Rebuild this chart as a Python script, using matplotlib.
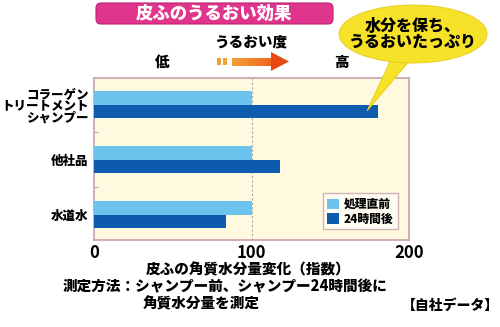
import matplotlib
matplotlib.use("Agg")
import matplotlib.pyplot as plt
from matplotlib.patches import Ellipse, Polygon, FancyBboxPatch, Rectangle
from matplotlib.transforms import Affine2D
import numpy as np

plt.rcParams['font.family'] = ['Noto Sans CJK JP', 'DejaVu Sans']

categories = ["コラーゲン\nトリートメント\nシャンプー", "他社品", "水道水"]
before = [100, 100, 100]
after24 = [180, 118, 84]
series_names = ["処理直前", "24時間後"]
xticks = [0, 100, 200]

c_light = "#6CC4EE"
c_dark = "#0C5BAE"
c_bg = "#FFFADF"
c_border = "#C9A0AA"
FW = 'heavy'

W, H = 500, 327
fig = plt.figure(figsize=(W / 100, H / 100), dpi=100)
T = Affine2D().scale(1, -1).translate(0, H)  # pixel-from-top coords -> display

ax = fig.add_axes([94 / W, 1 - 240 / H, (409 - 94) / W, (240 - 78) / H])
ax.set_facecolor(c_bg)
y = np.arange(len(categories))
h = 0.245
ax.barh(y - h / 2, before, height=h, color=c_light, label=series_names[0], zorder=3)
ax.barh(y + h / 2, after24, height=h, color=c_dark, label=series_names[1], zorder=3)
ax.axvline(100, color="#A8A8A8", ls=(0, (2, 2)), lw=0.8, zorder=2)
ax.set_xlim(0, 200)
ax.set_ylim(2.46, -0.49)
ax.set_yticks(y)
ax.set_yticklabels(categories, fontsize=9, fontweight=FW, linespacing=1.0)
ax.set_yticks([0.5, 1.5], minor=True)
ax.tick_params(axis='y', which='major', length=0, pad=4)
ax.tick_params(axis='y', which='minor', length=3, direction='in', color="#999999")
ax.set_xticks(xticks)
ax.set_xticklabels([str(v) for v in xticks], fontsize=12, fontweight='bold')
ax.tick_params(axis='x', length=0, pad=3)
for s in ax.spines.values():
    s.set_color(c_border)
    s.set_linewidth(1.2)

leg = ax.legend(loc='lower right', bbox_to_anchor=(0.985, 0.03),
                prop={'weight': FW, 'size': 8.5}, frameon=True, fancybox=False,
                edgecolor=c_border, facecolor="#FFFDF8", handlelength=1.0, handleheight=1.0,
                handletextpad=0.4, borderpad=0.4, labelspacing=0.2)
leg.get_frame().set_linewidth(1.0)

# x label and notes
fig.text(248 / W, 1 - 270 / H, "皮ふの角質水分量変化（指数）", ha='center', va='center',
         fontsize=10.5, fontweight=FW)
fig.text(63 / W, 1 - 287 / H, "測定方法：シャンプー前、シャンプー24時間後に", ha='left', va='center',
         fontsize=10.5, fontweight=FW)
fig.text(143 / W, 1 - 304 / H, "角質水分量を測定", ha='left', va='center',
         fontsize=10.5, fontweight=FW)
fig.text(499 / W, 1 - 306 / H, "【自社データ】", ha='right', va='center',
         fontsize=10, fontweight=FW)

# title box
tb = FancyBboxPatch((96, 3), 237, 21, boxstyle="round,pad=0,rounding_size=5",
                    transform=T, facecolor="#E0358C", edgecolor="#C02070", lw=0.8)
fig.patches.append(tb)
fig.text(214 / W, 1 - 14 / H, "皮ふのうるおい効果", ha='center', va='center',
         fontsize=12.5, fontweight=FW, color='white')

# うるおい度 arrow
fig.text(251 / W, 1 - 42 / H, "うるおい度", ha='center', va='center', fontsize=10.5, fontweight=FW)
fig.text(162 / W, 1 - 62 / H, "低", ha='center', va='center', fontsize=10.5, fontweight=FW)
fig.text(341 / W, 1 - 62 / H, "高", ha='center', va='center', fontsize=10.5, fontweight=FW)
for x0, x1 in [(217, 220.5), (222.5, 226.5)]:
    fig.patches.append(Rectangle((x0, 58), x1 - x0, 7, transform=T, facecolor="#F0A030", lw=0))
c0 = np.array([0.95, 0.62, 0.2])
c1 = np.array([0.92, 0.28, 0.08])
nseg = 20
for i in range(nseg):
    xa = 232 + i * (272 - 232) / nseg
    col = c0 + (c1 - c0) * (i / nseg) * 0.7
    fig.patches.append(Rectangle((xa, 57.5), (272 - 232) / nseg + 0.5, 8, transform=T,
                                 facecolor=col, lw=0))
fig.patches.append(Polygon([(271, 52), (271, 71), (289, 61.5)], closed=True, transform=T,
                           facecolor="#E84A12", lw=0))

# speech bubble
yel = "#F6E228"
fig.patches.append(Polygon([(393, 55), (412, 58), (367, 111)], closed=True, transform=T,
                           facecolor=yel, edgecolor="#E8C818", lw=0.6, zorder=5))
fig.patches.append(Ellipse((413, 34), 148, 58, transform=T, facecolor=yel,
                           edgecolor="#E8C818", lw=0.6, zorder=5))
fig.text(413 / W, 1 - 34 / H, "水分を保ち、\nうるおいたっぷり", ha='center', va='center',
         fontsize=11.5, fontweight=FW, linespacing=1.05, zorder=6)

fig.savefig("out.png", dpi=100)
